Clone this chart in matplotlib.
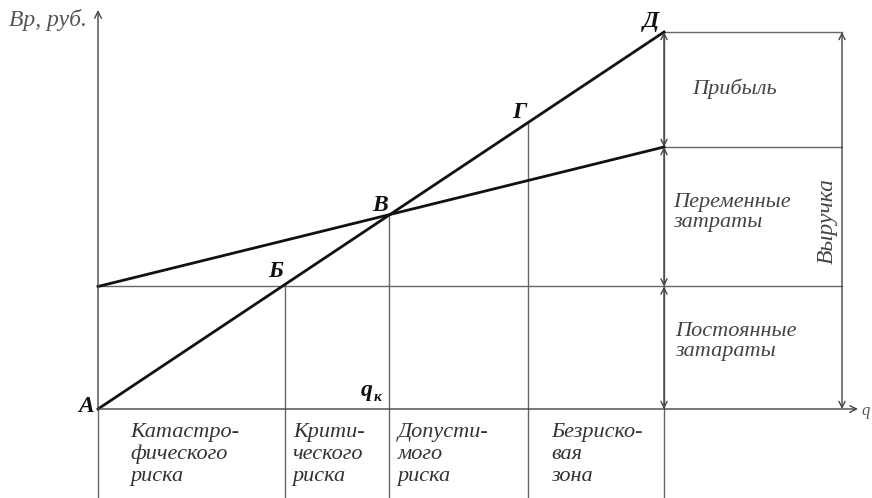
import matplotlib.pyplot as plt
import numpy as np

# Линии графика безубыточности (условные единицы)
q_line = [0, 10]
revenue = [0, 100]          # выручка, от А до Д
total_costs = [32.5, 69.5]  # постоянные + переменные
fixed_costs = 32.5

# Границы зон риска по оси q: Б, В (q_к), Г, Д
q_zones = [0, 3.3, 5.15, 7.6, 10]
point_names = ['Б', 'В', 'Г', 'Д']

zone_labels = ['Катастро-\nфического\nриска', 'Крити-\nческого\nриска',
               'Допусти-\nмого\nриска', 'Безриско-\nвая\nзона']
zone_dx = [32, 8, 8, 23]

# масштаб: пикселей на единицу, начало координат в пикселях
XS, YS = 56.6, 3.77
X0, Y0 = 98, 409
W, H = 872, 498

serif = ['Liberation Serif', 'DejaVu Serif']
thin = dict(color='#666666', lw=1.0)
thick = dict(color='#111111', lw=2.0)

fig = plt.figure(figsize=(W / 100, H / 100), dpi=100)
ax = fig.add_axes([0, 0, 1, 1])
ax.set_xlim(-X0 / XS, (W - X0) / XS)
ax.set_ylim((Y0 - H) / YS, Y0 / YS)
ax.axis('off')

y_bottom = (Y0 - H) / YS
y_top_axis = (Y0 - 10) / YS
q_right = (842 - X0) / XS
q_axis_end = (858 - X0) / XS

q_max = q_line[-1]
rev_max = revenue[-1]
cost_max = total_costs[-1]

# оси
ax.plot([0, 0], [y_bottom, 0], **thin)
ax.annotate('', xy=(0, y_top_axis), xytext=(0, 0),
            arrowprops=dict(arrowstyle='->', color='#444444', lw=1.0,
                            mutation_scale=12, shrinkA=0, shrinkB=0))
ax.annotate('', xy=(q_axis_end, 0), xytext=(0, 0),
            arrowprops=dict(arrowstyle='->', color='#444444', lw=1.0,
                            mutation_scale=12, shrinkA=0, shrinkB=0))

# горизонтали
ax.plot([0, q_right], [fixed_costs, fixed_costs], **thin)
ax.plot([q_max, q_right], [rev_max, rev_max], **thin)
ax.plot([q_max, q_right], [cost_max, cost_max], **thin)

# вертикали зон
for q in q_zones[1:-1]:
    yv = np.interp(q, q_line, revenue)
    ax.plot([q, q], [y_bottom, yv], **thin)
ax.plot([q_max, q_max], [y_bottom, rev_max], **thin)

# размерные стрелки
arr = dict(arrowstyle='<->', color='#444444', lw=1.0, mutation_scale=11,
           shrinkA=0, shrinkB=0)
for y1, y2 in [(rev_max, cost_max), (cost_max, fixed_costs), (fixed_costs, 0)]:
    ax.annotate('', xy=(q_max, y1), xytext=(q_max, y2), arrowprops=arr)
ax.annotate('', xy=(q_right, rev_max), xytext=(q_right, 0), arrowprops=arr)

# основные линии
ax.plot(q_line, revenue, **thick)
ax.plot(q_line, total_costs, **thick)

# подписи точек
pts = {'А': (0, 0)}
for q, name in zip(q_zones[1:], point_names):
    pts[name] = (q, np.interp(q, q_line, revenue))
offs = {'А': (-12, 3), 'Б': (-9, 13), 'В': (-9, 9), 'Г': (-9, 10), 'Д': (-13, 10)}
bold_it = dict(fontweight='bold', fontstyle='italic', family=serif, color='#111111')
for name, xy in pts.items():
    ax.annotate(name, xy=xy, xytext=offs[name], textcoords='offset pixels',
                ha='center', va='center', fontsize=17, **bold_it)
ax.annotate('q', xy=(q_zones[2], 0), xytext=(-23, 19), textcoords='offset pixels',
            ha='center', va='center', fontsize=17, **bold_it)
ax.annotate('к', xy=(q_zones[2], 0), xytext=(-12, 12), textcoords='offset pixels',
            ha='center', va='center', fontsize=11, **bold_it)

ax.text(-X0 / XS + 9 / XS, (Y0 - 20) / YS, 'Вр, руб.', ha='left', va='center',
        fontsize=17, fontstyle='italic', family=serif, color='#555555')
ax.text((861 - X0) / XS, (Y0 - 411) / YS, 'q', ha='left', va='center',
        fontsize=12, fontstyle='italic', family=serif, color='#555555')

# зоны риска
for q, lab, dx in zip(q_zones[:-1], zone_labels, zone_dx):
    ax.annotate(lab, xy=(q, 0), xytext=(dx, -14), textcoords='offset pixels',
                ha='left', va='top', fontsize=16, fontstyle='italic',
                family=serif, color='#333333', linespacing=1.2)

# правая часть
txt = dict(fontsize=16, fontstyle='italic', family=serif, color='#444444',
           linespacing=1.05)
ax.annotate('Прибыль', xy=(q_max, (rev_max + cost_max) / 2), xytext=(28, 1),
            textcoords='offset pixels', ha='left', va='center', **txt)
ax.annotate('Переменные\nзатраты', xy=(q_max, (cost_max + fixed_costs) / 2),
            xytext=(9, 4), textcoords='offset pixels', ha='left', va='center', **txt)
ax.annotate('Постоянные\nзатараты', xy=(q_max, fixed_costs / 2), xytext=(11, 6),
            textcoords='offset pixels', ha='left', va='center', **txt)
ax.annotate('Выручка', xy=(q_right, rev_max * 0.5), xytext=(-15, 0),
            textcoords='offset pixels', ha='center', va='center', rotation=90,
            fontsize=17, fontstyle='italic', family=serif, color='#444444')

fig.savefig('out.png', dpi=100)
